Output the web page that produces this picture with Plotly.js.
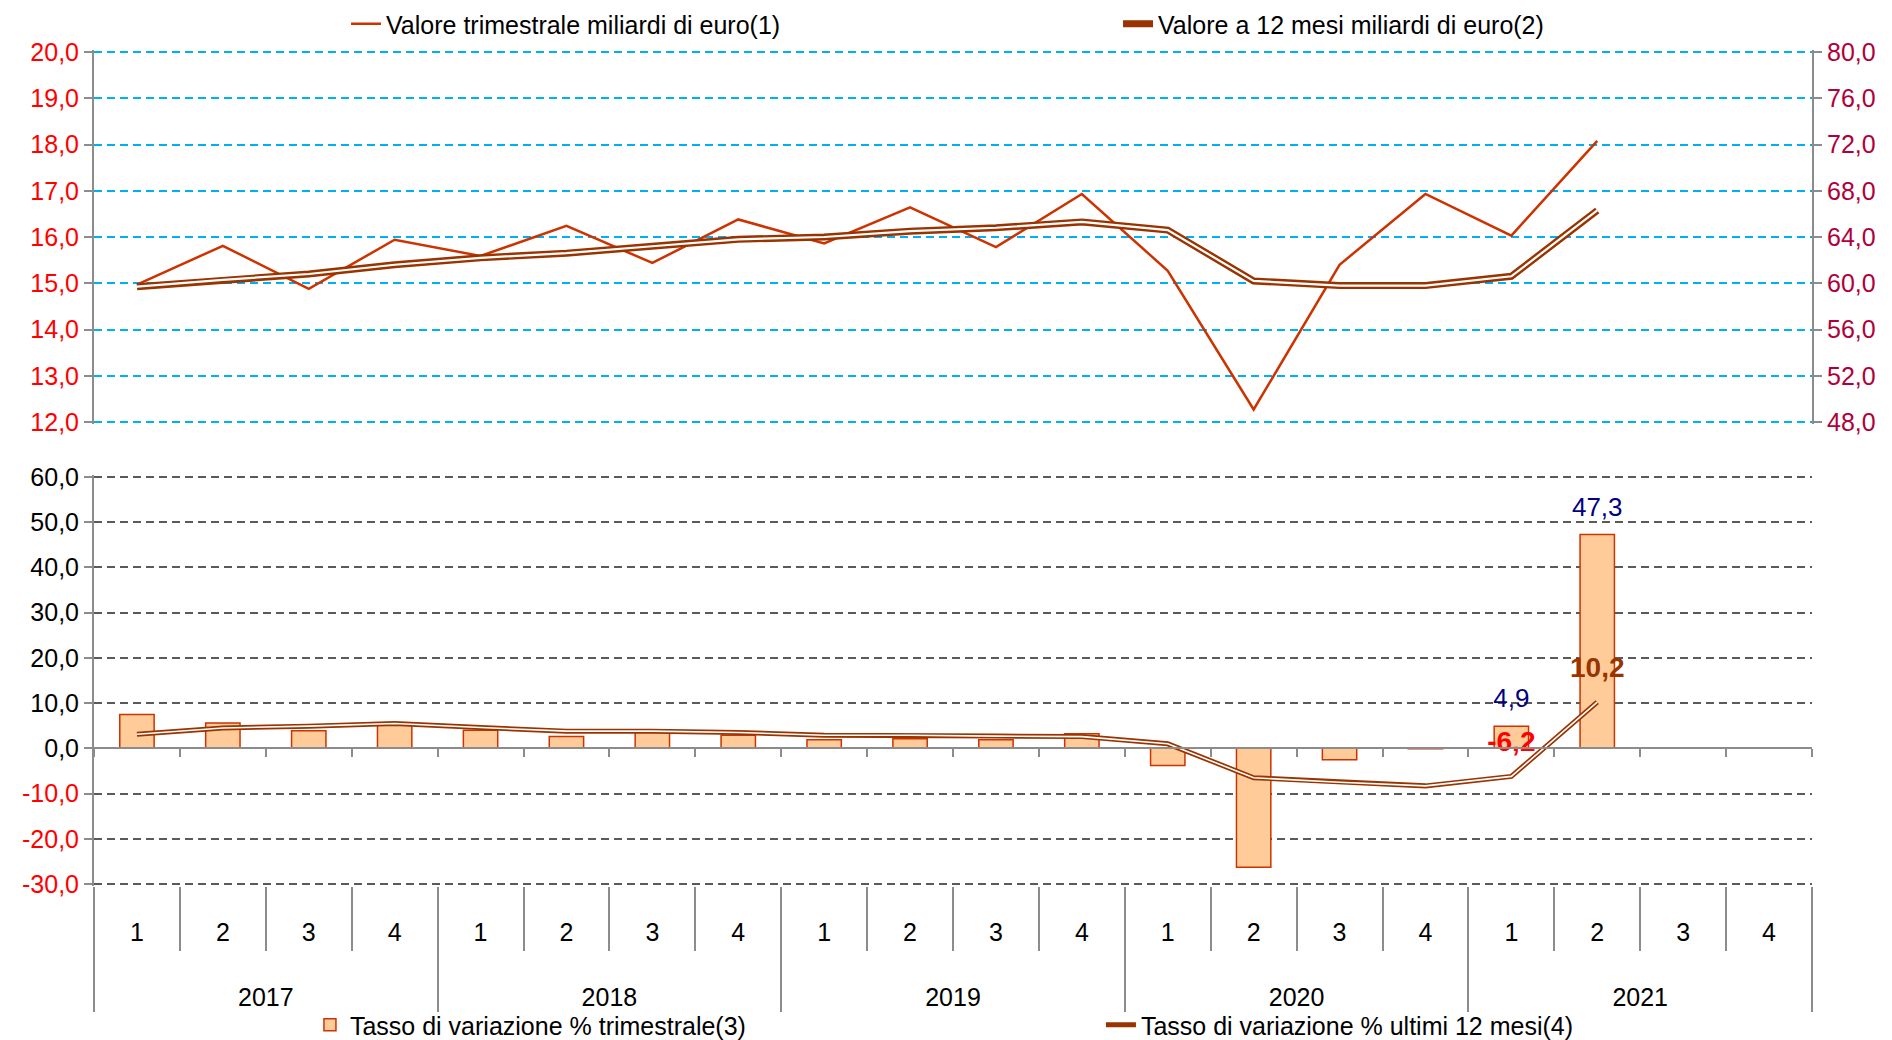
<!DOCTYPE html>
<html>
<head>
<meta charset="utf-8">
<script src="https://cdn.plot.ly/plotly-3.0.1.min.js"></script>
<style>
html,body{margin:0;padding:0;background:#ffffff;}
#chart{width:1892px;height:1040px;}
</style>
</head>
<body>
<div id="chart"></div>
<script>
// ---- categories ----
const years = ['2017','2017','2017','2017','2018','2018','2018','2018','2019','2019','2019','2019','2020','2020','2020','2020','2021','2021','2021','2021'];
const quarters = ['1','2','3','4','1','2','3','4','1','2','3','4','1','2','3','4','1','2','3','4'];

// ---- series ----
const valoreTrimestrale = [14.97,15.81,14.88,15.94,15.59,16.24,15.44,16.38,15.86,16.64,15.78,16.93,15.27,12.27,15.40,16.93,16.03,18.08,null,null];
const valore12Mesi = [59.7,60.3,60.8,61.6,62.2,62.6,63.2,63.8,64.0,64.5,64.8,65.3,64.6,60.2,59.8,59.8,60.6,66.3,null,null];
const tassoTrimestrale = [7.5,5.6,3.9,5.3,4.0,2.6,3.7,2.9,1.9,2.1,1.9,3.2,-3.8,-26.3,-2.5,-0.1,4.9,47.3,null,null];
const tasso12Mesi = [3.1,4.5,4.9,5.5,4.6,3.8,3.8,3.5,2.9,2.9,2.7,2.6,1.0,-6.5,-7.5,-8.3,-6.2,10.2,null,null];

// indices of points carrying a data label
const labelledPoints = [16,17];

// ---- tick values ----
const leftTicks = [12,13,14,15,16,17,18,19,20];
const rightTicks = [48,52,56,60,64,68,72,76,80];
const bottomTicks = [-30,-20,-10,0,10,20,30,40,50,60];

// ---- names ----
const nameValTrim = 'Valore trimestrale miliardi di euro(1)';
const nameVal12 = 'Valore a 12 mesi miliardi di euro(2)';
const nameTassoTrim = 'Tasso di variazione % trimestrale(3)';
const nameTasso12 = 'Tasso di variazione % ultimi 12 mesi(4)';

const fmt = v => v.toFixed(1).replace('.', ',');
// unique category keys (year-quarter); displayed as quarter numbers
const cats = years.map((y, i) => y + '-' + quarters[i]);
// year groups -> centre position and boundaries on the category axis
const yearList = [...new Set(years)];
const yearCentres = yearList.map(y => {
  const idx = years.map((v, i) => v === y ? i : -1).filter(i => i >= 0);
  return (idx[0] + idx[idx.length - 1]) / 2;
});
const yearBounds = [-0.5].concat(yearList.map(y => years.lastIndexOf(y) + 0.5));
const catRange = [-0.5, cats.length - 0.5];

const FONT = 'Liberation Sans, Arial, sans-serif';
const BROWN = '#993300';
const ORANGE = '#CC3300';
const GREY = '#8c8c8c';

const barText = tassoTrimestrale.map((v,i) => labelledPoints.includes(i) && v !== null ? fmt(v) : '');
const lineText = tasso12Mesi.map((v,i) => labelledPoints.includes(i) && v !== null ? '<b>' + fmt(v) + '</b>' : '');
const lineTextColor = tasso12Mesi.map(v => (v !== null && v < 0) ? '#FF0000' : BROWN);
const bottomTickText = bottomTicks.map(v => v < 0 ? '<span style="color:#FF0000">' + fmt(v) + '</span>' : fmt(v));

const traces = [
  // ---- top panel ----
  {type:'scatter', mode:'lines', x:cats, y:valoreTrimestrale, xaxis:'x', yaxis:'y',
   name:nameValTrim, line:{color:ORANGE, width:2.5}, legend:'legend', legendwidth:727, hoverinfo:'skip'},
  {type:'scatter', mode:'lines', x:cats, y:valore12Mesi, xaxis:'x', yaxis:'y2',
   name:nameVal12, line:{color:BROWN, width:7}, legend:'legend', hoverinfo:'skip'},
  {type:'scatter', mode:'lines', x:cats, y:valore12Mesi, xaxis:'x', yaxis:'y2',
   showlegend:false, line:{color:'#ffffff', width:2.2}, hoverinfo:'skip'},
  // ---- bottom panel ----
  {type:'bar', x:cats, y:tassoTrimestrale, xaxis:'x2', yaxis:'y3',
   name:nameTassoTrim, marker:{color:'#FFCC99', line:{color:ORANGE, width:1.5}},
   legend:'legend2', legendwidth:746, hoverinfo:'skip'},
  {type:'scatter', mode:'lines', x:cats, y:tasso12Mesi, xaxis:'x2', yaxis:'y3',
   name:nameTasso12, line:{color:BROWN, width:5}, legend:'legend2', hoverinfo:'skip'},
  {type:'scatter', mode:'lines', x:cats, y:tasso12Mesi, xaxis:'x2', yaxis:'y3',
   showlegend:false, line:{color:'#ffffff', width:1.6}, hoverinfo:'skip'},
  // data labels
  {type:'scatter', mode:'markers+text', x:cats, y:tassoTrimestrale, xaxis:'x2', yaxis:'y3',
   text:barText, textposition:'top center', textfont:{family:FONT, size:26, color:'#000080'},
   marker:{size:18, opacity:0}, showlegend:false, hoverinfo:'skip', cliponaxis:false},
  {type:'scatter', mode:'markers+text', x:cats, y:tasso12Mesi, xaxis:'x2', yaxis:'y3',
   text:lineText, textposition:'top center', textfont:{family:FONT, size:28, color:lineTextColor},
   marker:{size:28, opacity:0}, showlegend:false, hoverinfo:'skip', cliponaxis:false},
  // carriers for the helper axes (zero-line ticks, year row)
  {type:'scatter', mode:'lines', x:[], y:[], xaxis:'x3', yaxis:'y3', showlegend:false, hoverinfo:'skip'},
  {type:'scatter', mode:'lines', x:[], y:[], xaxis:'x4', yaxis:'y3', showlegend:false, hoverinfo:'skip'}
];

// ---- geometry (pixels of the 1892x1040 page) ----
const W = 1892, H = 1040;
const M = {l:94, r:80, t:48, b:150};
const paperTop = M.t, paperBot = H - M.b, paperH = paperBot - paperTop;
const py2f = py => (paperBot - py) / paperH;
const topPx = [52, 422], botPx = [477, 884];
const padPx = 1.8;
function paddedAxis(r0, r1, pTop, pBot) {
  const perPx = (r1 - r0) / (pBot - pTop);
  const d = padPx * perPx;
  return {range:[r0 - d, r1 + d], domain:[py2f(pBot + padPx), py2f(pTop - padPx)]};
}
const topL = paddedAxis(leftTicks[0], leftTicks[leftTicks.length-1], topPx[0], topPx[1]);
const topR = paddedAxis(rightTicks[0], rightTicks[rightTicks.length-1], topPx[0], topPx[1]);
const bot = paddedAxis(bottomTicks[0], bottomTicks[bottomTicks.length-1], botPx[0], botPx[1]);
const zeroPos = bot.domain[0] + (bot.domain[1]-bot.domain[0]) * (0 - bot.range[0]) / (bot.range[1] - bot.range[0]);

const layout = {
  width:W, height:H,
  margin:{l:M.l, r:M.r, t:M.t, b:M.b, pad:0, autoexpand:false},
  paper_bgcolor:'#ffffff', plot_bgcolor:'rgba(0,0,0,0)',
  separators:',.',
  font:{family:FONT, size:25, color:'#000000'},
  bargap:0.6,
  hovermode:false,
  xaxis:{type:'category', categoryorder:'array', categoryarray:cats, domain:[0,1], anchor:'y', range:catRange,
    showticklabels:false, ticks:'', showgrid:false, showline:false, zeroline:false},
  yaxis:{domain:topL.domain, anchor:'x', range:topL.range, tickmode:'array', tickvals:leftTicks,
    tickformat:'.1f', tickfont:{color:'#FF0000', size:25},
    showline:true, linecolor:GREY, linewidth:2, ticks:'outside', ticklen:8, tickcolor:GREY, tickwidth:2,
    gridcolor:'#00B0F0', griddash:'8px,5px', gridwidth:2, zeroline:false},
  yaxis2:{overlaying:'y', side:'right', anchor:'x', range:topR.range, tickmode:'array', tickvals:rightTicks,
    tickformat:'.1f', tickfont:{color:'#B0003A', size:25},
    showline:true, linecolor:GREY, linewidth:2, ticks:'outside', ticklen:8, tickcolor:GREY, tickwidth:2,
    showgrid:false, zeroline:false},
  // quarter row
  xaxis2:{type:'category', categoryorder:'array', categoryarray:cats, domain:[0,1], anchor:'y3', range:catRange,
    tickmode:'array', tickvals:cats, ticktext:quarters,
    showline:false, ticks:'outside', ticklen:64, tickcolor:GREY, tickwidth:2, tickson:'boundaries',
    ticklabelstandoff:29, tickfont:{size:25, color:'#000000'}, showgrid:false, zeroline:false, automargin:false},
  yaxis3:{domain:bot.domain, anchor:'x2', range:bot.range, tickmode:'array', tickvals:bottomTicks, ticktext:bottomTickText,
    tickfont:{size:25, color:'#000000'},
    showline:true, linecolor:GREY, linewidth:2, ticks:'outside', ticklen:8, tickcolor:GREY, tickwidth:2,
    gridcolor:'#5a5a5a', griddash:'8px,5px', gridwidth:2, zeroline:false},
  // zero line with small ticks
  xaxis3:{overlaying:'x2', anchor:'free', position:zeroPos, range:catRange,
    tickmode:'linear', tick0:-0.5, dtick:1, ticks:'outside', ticklen:8, tickcolor:GREY, tickwidth:2,
    showticklabels:false, showline:true, linecolor:GREY, linewidth:2, showgrid:false, zeroline:false},
  // year row with year dividers
  xaxis4:{overlaying:'x2', anchor:'free', position:bot.domain[0], range:catRange,
    tickmode:'array', tickvals:yearCentres, ticktext:yearList, ticks:'', ticklabelstandoff:94,
    tickfont:{size:25, color:'#000000'},
    minor:{tickmode:'array', tickvals:yearBounds, ticks:'outside', ticklen:125, tickcolor:GREY, tickwidth:2, showgrid:false},
    showline:false, showgrid:false, zeroline:false, automargin:false},
  legend:{orientation:'h', x:0.1467, xanchor:'left', y:py2f(24), yanchor:'middle',
    font:{size:25, color:'#000'}, bgcolor:'rgba(0,0,0,0)', traceorder:'normal'},
  legend2:{orientation:'h', x:0.1257, xanchor:'left', y:py2f(1025), yanchor:'middle',
    font:{size:25, color:'#000'}, bgcolor:'rgba(0,0,0,0)', traceorder:'normal'}
};

Plotly.newPlot('chart', traces, layout, {displayModeBar:false, staticPlot:true});
</script>
</body>
</html>
